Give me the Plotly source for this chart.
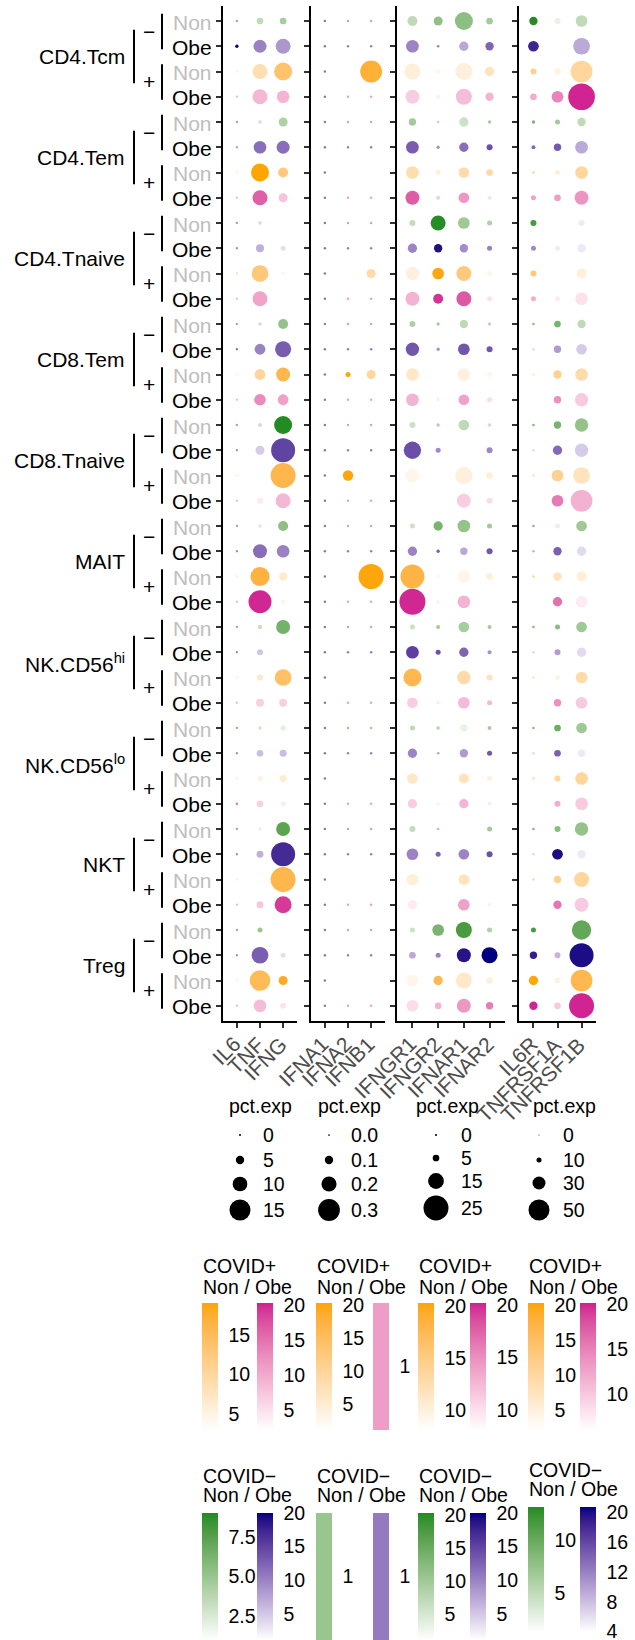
import plotly.graph_objects as go

W, H = 635, 1640
FONT = "Liberation Sans, Arial, Helvetica, sans-serif"

# ---------------- data ----------------
cell_types = ["CD4.Tcm", "CD4.Tem", "CD4.Tnaive", "CD8.Tem", "CD8.Tnaive", "MAIT",
              "NK.CD56<sup>hi</sup>", "NK.CD56<sup>lo</sup>", "NKT", "Treg"]
sign_labels = ["\u2212", "+"]
bmi_labels = ["Non", "Obe"]

genes_p1 = ["IL6", "TNF", "IFNG"]
genes_p2 = ["IFNA1", "IFNA2", "IFNB1"]
genes_p3 = ["IFNGR1", "IFNGR2", "IFNAR1", "IFNAR2"]
genes_p4 = ["IL6R", "TNFRSF1A", "TNFRSF1B"]

N = None
# rows: for each cell type: -Non, -Obe, +Non, +Obe
p1_pct = [
    [0.2, 3.7, 3.7], [1.0, 8.7, 10.2], [0.2, 10.2, 12.6], [0.2, 10.2, 8.4],
    [0.2, 1.0, 5.5], [0.2, 8.4, 8.7], [0.2, 12.6, 6.3], [0.2, 10.2, 5.5],
    [0.2, 1.0, N], [0.2, 4.7, 2.4], [0.2, 11.6, 1.6], [0.2, 10.2, N],
    [0.2, 1.0, 6.3], [0.2, 6.9, 11.0], [0.2, 6.9, 9.4], [0.2, 7.6, 6.9],
    [0.2, 1.6, 12.6], [0.2, 5.5, 17.3], [0.2, N, 18.1], [0.2, 3.1, 10.2],
    [0.2, 1.0, 6.3], [0.2, 9.4, 8.4], [0.2, 13.4, 4.7], [0.2, 16.5, 1.6],
    [0.2, 1.6, 9.4], [0.2, 3.1, N], [0.2, 3.1, 11.6], [0.2, 4.7, 4.7],
    [0.2, 1.0, 2.4], [0.2, 3.7, 3.9], [0.2, 2.4, 3.9], [0.4, 3.7, 2.4],
    [0.2, 1.0, 9.4], [0.2, 3.9, 17.3], [0.2, N, 18.1], [0.2, 3.9, 11.8],
    [0.2, 2.4, N], [0.2, 11.6, 2.4], [0.2, 14.7, 5.5], [0.2, 8.4, 3.1],
]
p1_col = [
    [6, 3.5, 4.5], [20, 10, 8.6], [6.2, 8.6, 13.5], [9.2, 8.7, 9],
    [6, 3, 4.2], [8.6, 11.5, 11.5], [6, 19, 12.3], [9.2, 16.4, 7.6],
    [6, 3, N], [10, 6.7, 3.3], [8.6, 12.8, 4.6], [9, 10.6, N],
    [6, 3, 5.2], [12, 10, 13], [6, 10.4, 15.8], [9, 12.8, 10.8],
    [6, 3, 9], [10, 4.8, 14.9], [6, N, 15.8], [9, 4.2, 8.8],
    [6, 2.5, 5.4], [10, 11.6, 10], [6, 16.6, 6.7], [9, 20, 3.4],
    [6, 3.5, 6.4], [10, 5.2, N], [6, 7, 14], [9, 6.5, 6.5],
    [6, 3, 2.2], [10, 5.7, 5.7], [6, 5.4, 6.2], [14.6, 6.5, 3.8],
    [6, 2, 7.3], [10, 6.7, 17], [6, N, 15.8], [9, 7.4, 19],
    [6, 4.9, N], [10, 12.8, 3.3], [6, 15, 18.2], [9, 8.5, 4.7],
]

p2_pct = [
    [0.01, 0.01, 0.01], [0.01, 0.01, 0.01], [0.01, N, 0.30], [0.01, 0.01, 0.01],
    [0.01, 0.01, 0.01], [0.01, 0.01, 0.01], [0.01, N, N], [0.01, 0.01, 0.01],
    [0.01, 0.01, 0.01], [0.01, 0.01, 0.01], [0.01, N, 0.11], [0.01, 0.01, 0.01],
    [0.01, 0.01, 0.01], [0.01, 0.01, 0.01], [0.01, 0.05, 0.11], [0.01, 0.01, 0.01],
    [0.01, 0.01, 0.01], [0.01, 0.01, 0.01], [0.01, 0.13, N], [0.01, 0.01, 0.01],
    [0.01, 0.01, 0.01], [0.01, 0.01, 0.01], [0.01, N, 0.35], [0.01, 0.01, 0.01],
    [0.01, 0.01, 0.01], [0.01, 0.01, 0.01], [0.01, N, N], [0.01, 0.01, 0.01],
    [0.01, 0.01, 0.01], [0.01, 0.01, 0.01], [0.01, N, N], [0.01, 0.01, 0.01],
    [0.01, 0.01, 0.01], [0.01, 0.01, 0.01], [0.01, N, N], [0.01, 0.01, 0.01],
    [0.01, 0.01, 0.01], [0.01, 0.01, 0.01], [0.01, N, N], [0.01, 0.01, 0.01],
]
p2_col = [
    [N, 1, 1], [N, 1, 1], [N, N, 18], [N, 1, 1],
    [N, 1, 1], [N, 1, 1], [N, N, N], [N, 1, 1],
    [N, 1, 1], [N, 1, 1], [N, N, 8.6], [N, 1, 1],
    [N, 1, 1], [N, 1, 1], [N, 20, 9.7], [N, 1, 1],
    [N, 1, 1], [N, 1, 1], [N, 20, N], [N, 1, 1],
    [N, 1, 1], [N, 1, 1], [N, N, 20], [N, 1, 1],
    [N, 1, 1], [N, 1, 1], [N, N, N], [N, 1, 1],
    [N, 1, 1], [N, 1, 1], [N, N, N], [N, 1, 1],
    [N, 1, 1], [N, 1, 1], [N, N, N], [N, 1, 1],
    [N, 1, 1], [N, 1, 1], [N, N, N], [N, 1, 1],
]

p3_pct = [
    [8.6, 7.5, 17.4, 5.0], [11.6, 0.7, 7.9, 6.8], [15.2, 3.2, 16.3, 7.9], [13.0, 2.1, 15.2, 6.8],
    [5.7, 0.7, 7.9, 1.3], [11.6, 1.3, 7.9, 4.3], [11.6, 3.2, 9.4, 5.0], [13.0, 2.1, 9.4, 2.1],
    [4.3, 14.1, 10.5, 3.2], [7.9, 6.8, 6.8, 3.2], [12.2, 10.5, 14.1, 3.2], [13.0, 8.6, 14.1, 3.2],
    [4.3, 1.3, 6.8, 1.3], [12.2, 1.3, 10.5, 4.3], [11.6, N, 11.6, 3.2], [11.6, 1.3, 9.4, 3.2],
    [4.3, 1.3, 9.4, 1.3], [16.6, 3.2, N, 4.3], [12.2, N, 16.6, 5.0], [N, N, 13.0, 4.3],
    [3.2, 7.9, 11.6, 3.2], [7.9, 1.3, 5.7, 4.3], [23.9, 1.3, 11.6, 5.0], [26.1, 1.3, 11.6, N],
    [3.2, 2.1, 9.4, 2.1], [11.6, 3.2, 7.9, 2.1], [17.4, N, 12.2, 4.3], [9.4, 1.3, 10.5, 3.2],
    [3.2, 1.3, 5.7, 2.1], [7.9, 0.7, 6.8, 3.2], [9.4, N, 8.6, 3.2], [7.9, 1.3, 7.9, 2.1],
    [4.3, 0.7, N, 3.2], [10.5, 3.2, 9.4, 4.3], [10.5, N, 9.4, N], [7.9, N, 10.5, 1.3],
    [3.2, 10.5, 15.2, 3.2], [5.0, 3.2, 13.0, 15.2], [10.5, 7.9, 15.2, 5.0], [10.5, 5.0, 13.0, 5.7],
]
p3_col = [
    [7.1, 11.5, 11.8, 9.7], [9.9, 9.9, 7.3, 12.4], [10.2, 9.2, 10, 11.7], [11.2, 9.2, 12.2, 12.8],
    [9.7, 6.7, 5.8, 9.7], [13, 9, 11.5, 14.1], [12.6, 10.2, 12.8, 13.2], [17.8, 11.2, 14.5, 9.9],
    [6.7, 20, 10, 8.6], [9.9, 19, 9.4, 10.1], [10, 20, 15.3, 9.4], [12.8, 19.6, 18, 10],
    [8.8, 9.7, 7.3, 7.5], [13.5, 9, 13.5, 13.5], [11.1, N, 10, 9.4], [12.8, 9.3, 13.9, 10.3],
    [6, 8.8, 7.3, 6.3], [14.1, 9.6, N, 9.6], [9.4, N, 10, 10.2], [N, N, 11.2, 10.3],
    [6, 13.5, 11, 9.7], [9.9, 13, 7.3, 13.5], [18.2, 9.2, 9.4, 10.2], [20, 9.2, 12.8, N],
    [6, 9.7, 9.4, 9.7], [15.3, 13.9, 12.4, 9], [17.6, N, 12.8, 11.7], [11.2, 9.3, 12.4, 12.4],
    [7.3, 8.8, 3.1, 9.4], [9.9, 7.3, 8.2, 13.5], [11.1, N, 11.7, 10], [11.2, 9.2, 12.7, 9.4],
    [6.7, 8.8, N, 9.7], [9.9, 12.4, 9.9, 13.9], [10.2, N, 11.7, N], [9.3, N, 13.9, 9.2],
    [6, 13.5, 17.7, 8.6], [7.3, 9.9, 18.7, 20], [9.4, 17.6, 11, 10], [10.3, 12.8, 14.5, 16],
]

p4_pct = [
    [18.3, 12.5, 26.8], [24.3, N, 39.3], [12.5, 14.3, 51.8], [14.3, 26.8, 64.3],
    [5.8, 10.0, 18.3], [7.5, 15.8, 29.3], [5.8, 10.0, 29.3], [10.0, 14.3, 32.5],
    [12.5, N, 12.5], [10.0, 10.0, 18.3], [12.5, N, 22.5], [10.0, 10.0, 29.3],
    [4.3, 14.3, 18.3], [4.3, 15.8, 24.3], [4.3, 18.3, 29.3], [N, 15.8, 30.8],
    [4.3, 15.8, 30.8], [4.3, 20.8, 30.8], [4.3, 26.8, 39.3], [N, 26.8, 51.8],
    [4.3, 10.0, 24.3], [4.3, 18.3, 20.8], [4.3, 18.3, 22.5], [N, 20.8, 26.8],
    [4.3, 10.0, 24.3], [4.3, 12.5, 20.8], [4.3, 10.0, 26.8], [N, 15.8, 26.8],
    [4.3, 14.3, 24.3], [4.3, 14.3, 15.8], [4.3, 12.5, 29.3], [N, 12.5, 29.3],
    [4.3, 12.5, 30.8], [4.3, 24.3, 18.3], [4.3, 15.8, 35.0], [N, 18.3, 32.5],
    [10.0, N, 45.8], [15.8, 12.5, 57.5], [20.8, 12.5, 51.8], [18.3, 14.3, 60.0],
]
p4_col = [
    [13, 2.7, 5], [18.4, N, 9.3], [11.4, 4.5, 10.3], [12, 14.8, 20],
    [8.9, 6.7, 5], [13.6, 14.6, 9.3], [7.6, 5.2, 10.3], [12.7, 12.9, 13.6],
    [11.6, N, 2.7], [11.5, 5.1, 5.3], [13, N, 5.1], [12, 7.5, 8.2],
    [8, 9, 5], [6.2, 10.2, 7.2], [6.5, 11.4, 9.2], [N, 14, 9.8],
    [8, 9, 7.5], [6.2, 13.6, 7.2], [7.6, 11.4, 7.6], [N, 15.4, 11.6],
    [8, 2.7, 6.8], [8.6, 14.2, 6.2], [10.3, 7.6, 5.2], [N, 16, 7.5],
    [8, 8, 6.8], [6.2, 10.1, 6.2], [7.6, 4.5, 9.2], [N, 14, 9.8],
    [8, 9.7, 6.8], [6.2, 14.2, 5.3], [9.2, 10.3, 10.3], [N, 12, 9.8],
    [8, 8, 7.5], [6.2, 20, 5.3], [9.2, 11.4, 10.3], [N, 15.7, 9.8],
    [11.6, N, 10.2], [18.9, 8.6, 20], [20, 4.5, 16.4], [20, 9.8, 20],
]

# size legends
legend_breaks = [[0, 5, 10, 15], [0.0, 0.1, 0.2, 0.3], [0, 5, 15, 25], [0, 10, 30, 50]]
legend_texts = [["0", "5", "10", "15"], ["0.0", "0.1", "0.2", "0.3"],
                ["0", "5", "15", "25"], ["0", "10", "30", "50"]]

# colour-bar limits per panel, order: -Non, -Obe, +Non, +Obe
color_limits = [
    [(1, 9), (1.1, 20), (3, 19), (2.1, 20.3)],
    [(1, 1), (1, 1), (1.06, 20.3), (1, 1)],
    [(1, 20.3), (1.1, 20), (8.1, 20.3), (8.1, 20.2)],
    [(1.3, 13.1), (3.95, 20.7), (2.1, 20.3), (6, 20.1)],
]
color_ticks = [
    [[2.5, 5, 7.5], [5, 10, 15, 20], [5, 10, 15], [5, 10, 15, 20]],
    [[1], [1], [5, 10, 15, 20], [1]],
    [[5, 10, 15, 20], [5, 10, 15, 20], [10, 15, 20], [10, 15, 20]],
    [[5, 10], [4, 8, 12, 16, 20], [5, 10, 15, 20], [10, 15, 20]],
]
color_ticktext = [
    [["2.5", "5.0", "7.5"], ["5", "10", "15", "20"], ["5", "10", "15"], ["5", "10", "15", "20"]],
    [["1"], ["1"], ["5", "10", "15", "20"], ["1"]],
    [["5", "10", "15", "20"], ["5", "10", "15", "20"], ["10", "15", "20"], ["10", "15", "20"]],
    [["5", "10"], ["4", "8", "12", "16", "20"], ["5", "10", "15", "20"], ["10", "15", "20"]],
]

# ---------------- styling ----------------
group_high = ["#228B22", "#000080", "#FFA500", "#D02090"]  # -Non, -Obe, +Non, +Obe
NA_COLOR = "#7F7F7F"

panels = [
    dict(genes=genes_p1, pct=p1_pct, col=p1_col, a=2.0, b=1.27, px=(223, 297)),
    dict(genes=genes_p2, pct=p2_pct, col=p2_col, a=1.7, b=67.0, px=(311, 385)),
    dict(genes=genes_p3, pct=p3_pct, col=p3_col, a=2.1, b=0.915, px=(397, 505)),
    dict(genes=genes_p4, pct=p4_pct, col=p4_col, a=1.0, b=0.40, px=(519, 596)),
]
legend_x = [(228, 240, 262), (317, 329, 350), (415, 436, 460), (532, 539, 562)]
legend_y = [[1135, 1160, 1184, 1210], [1135, 1160, 1184, 1210],
            [1135, 1158, 1181, 1208], [1135, 1160, 1183, 1210]]
cb_x = [(202, 257), (316, 373), (418, 470), (528, 580)]

NROW = 40
ROW0, ROWH = 21.0, 25.25
Y_TOP, Y_BOT = ROW0 - 0.6 * ROWH, ROW0 + 39.6 * ROWH


def X(px):
    return px / W


def Y(py):
    return 1 - py / H


def rowpx(i):
    return ROW0 + ROWH * i


# Lab interpolation (as ggplot's gradient)
def _lin(c):
    c = c / 255
    return c / 12.92 if c <= 0.04045 else ((c + 0.055) / 1.055) ** 2.4


def _gam(c):
    c = max(0.0, min(1.0, c))
    v = 12.92 * c if c <= 0.0031308 else 1.055 * c ** (1 / 2.4) - 0.055
    return int(round(v * 255))


def hex2rgb(h):
    h = h.lstrip("#")
    return tuple(int(h[i:i + 2], 16) for i in (0, 2, 4))


def rgb2lab(rgb):
    r, g, b = [_lin(v) for v in rgb]
    Xv = (0.4124564 * r + 0.3575761 * g + 0.1804375 * b) / 0.95047
    Yv = 0.2126729 * r + 0.7151522 * g + 0.0721750 * b
    Zv = (0.0193339 * r + 0.1191920 * g + 0.9503041 * b) / 1.08883
    f = lambda t: t ** (1 / 3) if t > 216 / 24389 else (24389 / 27 * t + 16) / 116
    fx, fy, fz = f(Xv), f(Yv), f(Zv)
    return (116 * fy - 16, 500 * (fx - fy), 200 * (fy - fz))


def lab2rgb(lab):
    L, a, b = lab
    fy = (L + 16) / 116
    fx = fy + a / 500
    fz = fy - b / 200
    finv = lambda t: t ** 3 if t ** 3 > 216 / 24389 else (116 * t - 16) / (24389 / 27)
    Xv, Yv, Zv = finv(fx) * 0.95047, finv(fy), finv(fz) * 1.08883
    r = 3.2404542 * Xv - 1.5371385 * Yv - 0.4985314 * Zv
    g = -0.9692660 * Xv + 1.8760108 * Yv + 0.0415560 * Zv
    bb = 0.0556434 * Xv - 0.2040259 * Yv + 1.0572252 * Zv
    return (_gam(r), _gam(g), _gam(bb))


def lab_mix(hexcol, t):
    lo = rgb2lab((255, 255, 255))
    hi = rgb2lab(hex2rgb(hexcol))
    r, g, b = lab2rgb(tuple(lo[k] + (hi[k] - lo[k]) * t for k in range(3)))
    return f"rgb({r},{g},{b})"


def gradient(hexcol, n=21):
    return [[i / (n - 1), lab_mix(hexcol, i / (n - 1))] for i in range(n)]


fig = go.Figure()
layout = {}
annotations = []
shapes = []


def ann(text, x, y, xanchor="left", yanchor="middle", size=19.5, color="black",
        xref="x5", yref="y5", **kw):
    annotations.append(dict(text=text, x=x, y=y, xref=xref, yref=yref, xanchor=xanchor,
                            yanchor=yanchor, showarrow=False, borderpad=0,
                            font=dict(family=FONT, size=size, color=color), **kw))


rows = list(range(NROW))
for pi, p in enumerate(panels):
    ax = "" if pi == 0 else str(pi + 1)
    ng = len(p["genes"])
    layout["xaxis" + ax] = dict(
        domain=[X(p["px"][0]), X(p["px"][1])], range=[0.4, ng + 0.6], anchor="y" + ax,
        tickmode="array", tickvals=list(range(1, ng + 1)), showticklabels=False,
        showline=True, linecolor="black", linewidth=2, ticks="outside", ticklen=5,
        tickwidth=2, tickcolor="#333333", showgrid=False, zeroline=False, fixedrange=True,
        automargin=False)
    layout["yaxis" + ax] = dict(
        domain=[Y(Y_BOT), Y(Y_TOP)], range=[NROW - 1 + 0.6, -0.6], anchor="x" + ax,
        tickmode="array", tickvals=rows, showticklabels=False,
        showline=True, linecolor="black", linewidth=2, ticks="outside", ticklen=5,
        tickwidth=2, tickcolor="#333333", showgrid=False, zeroline=False, fixedrange=True,
        automargin=False)

    # rotated gene labels placed at the axis categories
    for j, gname in enumerate(p["genes"]):
        ann(gname, j + 1, Y(1031), xanchor="right", yanchor="top", size=21,
            color="#4D4D4D", xref="x" + ax, yref="paper", textangle=-45, xshift=9.5)

    for g in range(4):
        cax_idx = pi * 4 + g + 1
        cax = "coloraxis" if cax_idx == 1 else f"coloraxis{cax_idx}"
        xs, ys, ss, cs = [], [], [], []
        for r in rows:
            if r % 4 != g:
                continue
            for j in range(ng):
                v = p["pct"][r][j]
                c = p["col"][r][j]
                if v is None or c is None:
                    continue
                xs.append(j + 1)
                ys.append(r)
                ss.append(p["a"] + p["b"] * v)
                cs.append(c)
        fig.add_trace(go.Scatter(
            x=xs, y=ys, mode="markers", xaxis="x" + ax, yaxis="y" + ax,
            marker=dict(size=ss, color=cs, coloraxis=cax, line=dict(width=0), opacity=1),
            hoverinfo="skip", showlegend=False))

        lo, hi = color_limits[pi][g]
        if lo == hi:
            mid = lab_mix(group_high[g], 0.5)
            cscale = [[0, mid], [1, mid]]
            cmin, cmax = lo - 0.5, hi + 0.5
        else:
            cscale = gradient(group_high[g])
            cmin, cmax = lo, hi
        top_row = g >= 2
        bx = cb_x[pi][g % 2]
        if top_row:
            btop, blen = 1303, 127
        else:
            btop, blen = (1507, 125) if pi == 3 else (1513, 127)
        layout[cax] = dict(
            colorscale=cscale, cmin=cmin, cmax=cmax,
            colorbar=dict(x=X(bx), xanchor="left", xpad=0, y=Y(btop), yanchor="top",
                          ypad=0, len=blen, lenmode="pixels", thickness=16,
                          thicknessmode="pixels", outlinewidth=0,
                          tickmode="array", tickvals=color_ticks[pi][g],
                          ticktext=color_ticktext[pi][g], ticks="outside", ticklen=7,
                          tickcolor="rgba(255,255,255,0)", ticklabeloverflow="allow",
                          tickfont=dict(family=FONT, size=19.5, color="black")))

    # NA-coloured points (no colour value)
    xs, ys, ss = [], [], []
    for r in rows:
        for j in range(ng):
            v = p["pct"][r][j]
            if v is not None and p["col"][r][j] is None:
                xs.append(j + 1)
                ys.append(r)
                ss.append(p["a"] + p["b"] * v)
    if xs:
        fig.add_trace(go.Scatter(
            x=xs, y=ys, mode="markers", xaxis="x" + ax, yaxis="y" + ax,
            marker=dict(size=ss, color=NA_COLOR, line=dict(width=0), opacity=1),
            hoverinfo="skip", showlegend=False))

    # size legend
    tx, dx, lx = legend_x[pi]
    ann("pct.exp", tx, 1106)
    fig.add_trace(go.Scatter(
        x=[dx] * 4, y=legend_y[pi], mode="markers", xaxis="x5", yaxis="y5",
        marker=dict(size=[p["a"] + p["b"] * v for v in legend_breaks[pi]], color="black",
                    line=dict(width=0), opacity=1),
        hoverinfo="skip", showlegend=False))
    for k in range(4):
        ann(legend_texts[pi][k], lx, legend_y[pi][k])

    # colour legend titles
    lx0 = cb_x[pi][0]
    ann("COVID+", lx0, 1266)
    ann("Non / Obe", lx0, 1287)
    if pi == 3:
        ann("COVID\u2212", lx0, 1470)
        ann("Non / Obe", lx0, 1489)
    else:
        ann("COVID\u2212", lx0, 1476)
        ann("Non / Obe", lx0, 1495)

# overlay pixel axis for decorations
layout["xaxis5"] = dict(domain=[0, 1], range=[0, W], visible=False, fixedrange=True,
                        anchor="y5", automargin=False)
layout["yaxis5"] = dict(domain=[0, 1], range=[H, 0], visible=False, fixedrange=True,
                        anchor="x5", automargin=False)

# row labels, sign labels, cell types, brackets
for r in rows:
    b = bmi_labels[r % 2]
    ann(b, 212.5, r + 0.04, xanchor="right", size=21,
        color="#BEBEBE" if b == "Non" else "black", yref="y")
for k, ct in enumerate(cell_types):
    ann(ct, 126, 4 * k + 1.5 - 0.08, xanchor="right", size=21, yref="y")
    for s in range(2):
        pair = 4 * k + 2 * s + 0.5
        ann(sign_labels[s], 149, pair - 0.1, xanchor="center", size=21, yref="y")
        cpx = rowpx(pair)
        shapes.append(dict(type="line", xref="x5", yref="y5", x0=162, x1=162,
                           y0=cpx - 20, y1=cpx + 15.5, line=dict(color="black", width=2)))
    c1 = rowpx(4 * k + 0.5)
    c2 = rowpx(4 * k + 2.5)
    shapes.append(dict(type="line", xref="x5", yref="y5", x0=134, x1=134,
                       y0=c1 - 4, y1=c2 - 1, line=dict(color="black", width=2)))

fig.update_layout(
    width=W, height=H, margin=dict(l=0, r=0, t=0, b=0, autoexpand=False),
    paper_bgcolor="white", plot_bgcolor="rgba(0,0,0,0)", showlegend=False,
    annotations=annotations, shapes=shapes, font=dict(family=FONT), **layout)

fig.write_html("out.html", config={"displayModeBar": False},
               post_script="document.body.style.margin='0';")
